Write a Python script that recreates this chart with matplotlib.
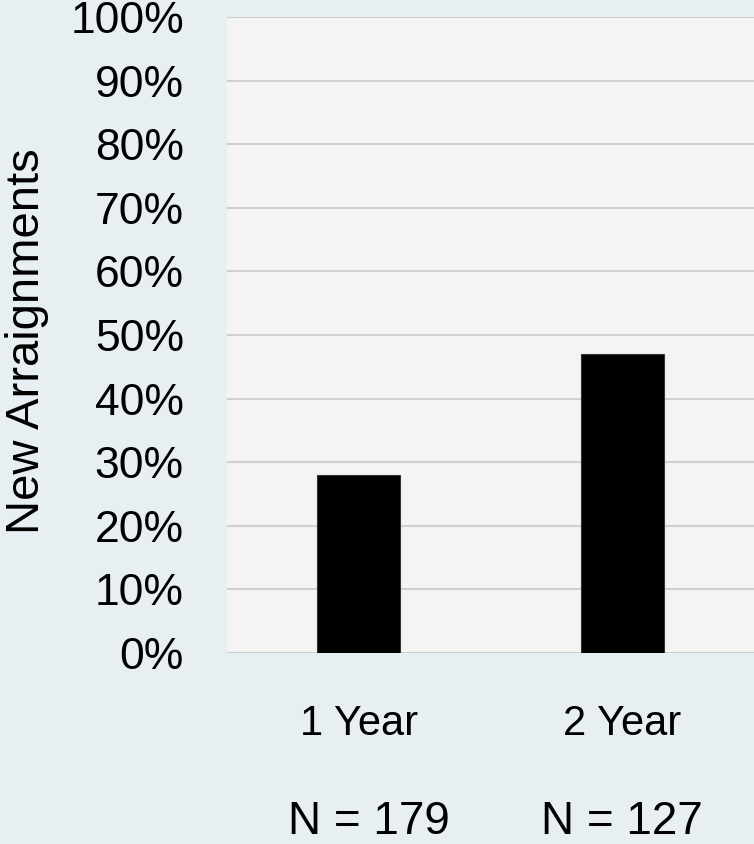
import matplotlib.pyplot as plt
from matplotlib.ticker import PercentFormatter
import matplotlib.transforms as mtransforms

# chart data
categories = ['1 Year', '2 Year']
values = [28, 47]
sample_sizes = ['N = 179', 'N = 127']
y_ticks = list(range(0, 101, 10))

plt.rcParams['font.family'] = ['Liberation Sans', 'DejaVu Sans']

fig = plt.figure(figsize=(7.54, 8.44), dpi=100, facecolor='#e8eff3')
ax = fig.add_axes([0.301, 0.2263, 0.699, 0.7535])
ax.set_facecolor('#f4f4f4')

x = range(len(categories))
ax.bar(x, values, width=0.316, color='black', edgecolor='#333333', linewidth=0.8, zorder=3)

ax.set_xlim(-0.5, 1.5)
ax.set_ylim(0, 100)
ax.set_yticks(y_ticks)
ax.yaxis.set_major_formatter(PercentFormatter(decimals=0))
ax.grid(axis='y', color='#d0d0d0', linewidth=1.5, zorder=0)
ax.set_axisbelow(True)
for s in ax.spines.values():
    s.set_visible(False)

ax.set_xticks(list(x))
ax.set_xticklabels(categories)
ax.tick_params(axis='y', length=0, pad=31, labelsize=32)
ax.tick_params(axis='x', length=0, pad=37, labelsize=30)

ax.set_ylabel('New Arraignments', fontsize=34)
ax.yaxis.set_label_coords(-0.338, 0.49)

trans = mtransforms.blended_transform_factory(ax.transData, ax.transAxes)
offsets = [0.04, 0.0]
for i, lab in enumerate(sample_sizes):
    ax.text(i + offsets[i], -0.265, lab, transform=trans, ha='center', va='center', fontsize=33)

fig.savefig('out.png', dpi=100, facecolor=fig.get_facecolor())
